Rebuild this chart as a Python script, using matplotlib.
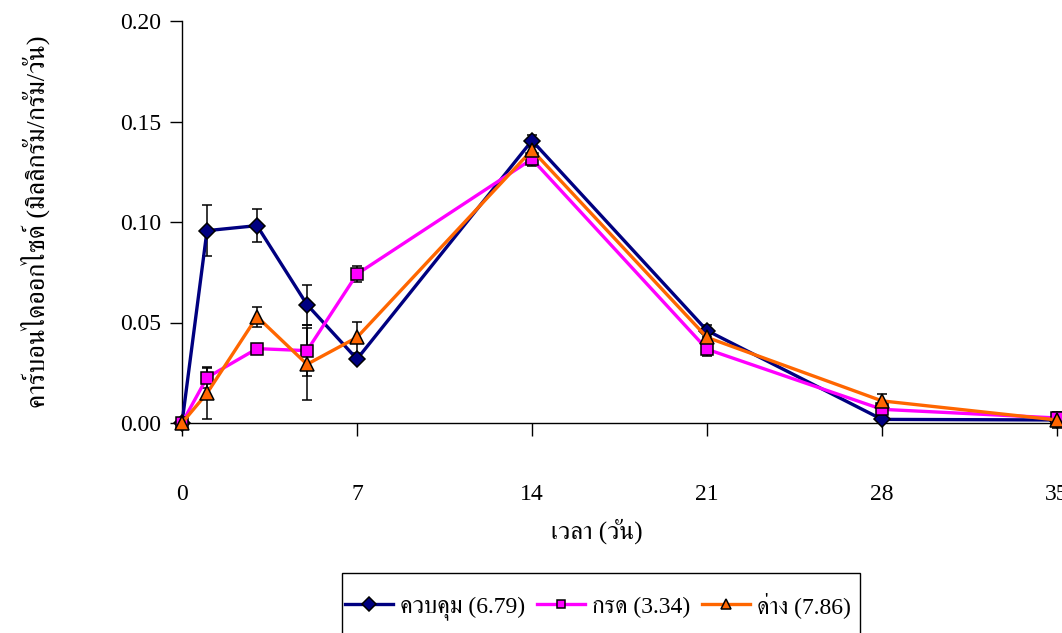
import matplotlib
matplotlib.use("Agg")
import matplotlib.pyplot as plt
from matplotlib import font_manager
from matplotlib.ft2font import FT2Font
from matplotlib.patches import Rectangle

# ---- data -------------------------------------------------------------
days = [0, 1, 3, 5, 7, 14, 21, 28, 35]

control = [0.0, 0.0957, 0.0982, 0.0589, 0.0318, 0.1405, 0.0460, 0.0018, 0.0015]
control_err = [0.0, 0.0126, 0.0083, 0.0099, 0.0015, 0.0030, 0.0030, 0.0010, 0.0010]

acid = [0.0, 0.0226, 0.0370, 0.0360, 0.0741, 0.1313, 0.0367, 0.0068, 0.0025]
acid_err = [0.0, 0.0052, 0.0015, 0.0126, 0.0040, 0.0033, 0.0035, 0.0015, 0.0015]

base = [0.0, 0.0148, 0.0529, 0.0292, 0.0426, 0.1358, 0.0426, 0.0110, 0.0015]
base_err = [0.0, 0.0128, 0.0050, 0.0180, 0.0078, 0.0030, 0.0030, 0.0035, 0.0040]

series_labels = ["ควบคุม (6.79)", "กรด (3.34)", "ด่าง (7.86)"]
x_ticks = [0, 7, 14, 21, 28, 35]
y_ticks = [0.00, 0.05, 0.10, 0.15, 0.20]
x_label = "เวลา (วัน)"
y_label = "คาร์บอนไดออกไซด์ (มิลลิกรัม/กรัม/วัน)"


# ---- fonts: serif for digits, any installed face with Thai glyphs ------
def find_thai_family():
    preferred = []
    others = []
    for fe in font_manager.fontManager.ttflist:
        try:
            cmap = FT2Font(fe.fname).get_charmap()
        except Exception:
            continue
        if ord("ก") in cmap and ord("ค") in cmap:
            if "serif" in fe.name.lower() and "sans" not in fe.name.lower():
                preferred.append(fe.name)
            else:
                others.append(fe.name)
    for lst in (preferred, others):
        if lst:
            return lst[0]
    return None


thai = find_thai_family()
families = ["Liberation Serif"] + ([thai] if thai else []) + ["DejaVu Sans"]
plt.rcParams["font.family"] = families

# ---- figure ----------------------------------------------------------------
W, H = 1062, 633
fig = plt.figure(figsize=(W / 100, H / 100), dpi=100)
ax = fig.add_axes([182 / W, 1 - 423 / H, (1057 - 182) / W, (423 - 21) / H])

styles = [
    (control, control_err, "#000080", "D", 8.5),
    (acid, acid_err, "#FF00FF", "s", 8),
    (base, base_err, "#FF6600", "^", 9.5),
]
handles = []
for (vals, errs, color, marker, ms), label in zip(styles, series_labels):
    ax.errorbar(days, vals, yerr=errs, fmt="none", ecolor="black",
                elinewidth=1.1, capsize=3.8, capthick=1.1, zorder=2,
                clip_on=False)
    ln, = ax.plot(days, vals, color=color, lw=2.4, marker=marker, ms=ms,
                  mfc=color, mec="black", mew=1.1, zorder=3, clip_on=False,
                  label=label)
    handles.append(ln)

ax.set_xlim(0, 35)
ax.set_ylim(0, 0.20)
ax.set_xticks(x_ticks)
ax.set_yticks(y_ticks)
ax.set_yticklabels([f"{v:.2f}" for v in y_ticks])
ax.tick_params(axis="both", direction="out", length=9, width=1,
               labelsize=17, colors="black")
ax.tick_params(axis="x", pad=35)
ax.tick_params(axis="y", pad=6)
for s in ("top", "right"):
    ax.spines[s].set_visible(False)
for s in ("left", "bottom"):
    ax.spines[s].set_linewidth(1)

ax.set_xlabel(x_label, fontsize=18)
ax.xaxis.set_label_coords((597 - 182) / (1057 - 182), -(531 - 423) / (423 - 21))
ax.xaxis.label.set_va("center")
ax.set_ylabel(y_label, fontsize=19)
ax.yaxis.set_label_coords(-(182 - 35) / (1057 - 182), 0.5)
ax.yaxis.label.set_va("center")

# legend box sits at the bottom edge and runs past it
box = Rectangle((342 / W, 1 - 660 / H), (860 - 342) / W, (660 - 573) / H,
                transform=fig.transFigure, fill=False, ec="black", lw=1,
                clip_on=False)
fig.add_artist(box)
leg = fig.legend(handles=handles, loc="center left",
                 bbox_to_anchor=(345 / W, 1 - 606 / H), ncol=3, frameon=False,
                 fontsize=17, handlelength=2.05, handletextpad=0.28,
                 columnspacing=0.5, borderpad=0, borderaxespad=0,
                 markerscale=0.8)

fig.savefig("out.png", dpi=100)
